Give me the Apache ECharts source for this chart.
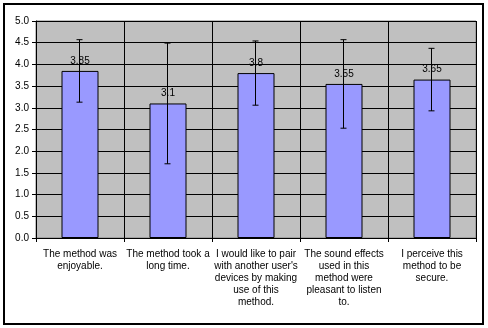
<!DOCTYPE html>
<html>
<head>
<meta charset="utf-8">
<script src="https://cdn.jsdelivr.net/npm/echarts@6/dist/echarts.min.js"></script>
<style>
html,body{margin:0;padding:0;background:#fff;}
#c{width:488px;height:328px;}
</style>
</head>
<body>
<div id="c"></div>
<script>
var categories = [
  "The method was\nenjoyable.",
  "The method took a\nlong time.",
  "I would like to pair\nwith another user's\ndevices by making\nuse of this\nmethod.",
  "The sound effects\nused in this\nmethod were\npleasant to listen\nto.",
  "I perceive this\nmethod to be\nsecure."
];
var means = [3.85, 3.1, 3.8, 3.55, 3.65];
var errors = [0.72, 1.39, 0.74, 1.02, 0.72];
var yTicks = [0, 0.5, 1, 1.5, 2, 2.5, 3, 3.5, 4, 4.5, 5];

var chart = echarts.init(document.getElementById('c'));
var font = 'Liberation Sans, Arial, sans-serif';
chart.setOption({
  animation: false,
  graphic: [{
    type: 'rect', shape: {x: 4, y: 4, width: 479, height: 320},
    style: {fill: 'none', stroke: '#000', lineWidth: 2}, z: 100
  }],
  grid: {left: 36, top: 21, width: 440, height: 217, show: true,
    backgroundColor: '#C0C0C0', borderColor: '#808080', borderWidth: 1},
  xAxis: {
    type: 'category', data: categories,
    axisLine: {lineStyle: {color: '#000', width: 1}},
    axisTick: {show: true, length: 4, lineStyle: {color: '#000'}},
    splitLine: {show: true, interval: 0, lineStyle: {color: '#000', width: 1}},
    axisLabel: {interval: 0, color: '#000', fontFamily: font, fontSize: 10, lineHeight: 12, margin: 10}
  },
  yAxis: {
    type: 'value', min: yTicks[0], max: yTicks[yTicks.length - 1], interval: 0.5,
    axisLine: {show: true, lineStyle: {color: '#000', width: 1}},
    axisTick: {show: true, length: 4, lineStyle: {color: '#000'}},
    splitLine: {show: true, lineStyle: {color: '#000', width: 1}},
    axisLabel: {color: '#000', fontFamily: font, fontSize: 10, margin: 7,
      formatter: function (v) { return v.toFixed(1); }}
  },
  series: [{
    type: 'bar', data: means, barWidth: 37,
    itemStyle: {color: '#9999FF', borderColor: '#000', borderWidth: 1},
    label: {show: true, position: 'top', distance: 5, color: '#000', fontFamily: font, fontSize: 10,
      formatter: function (p) { return String(p.value); }}
  }, {
    type: 'custom', z: 10,
    data: means.map(function (m, i) { return [i, m - errors[i], m + errors[i]]; }),
    renderItem: function (params, api) {
      var lo = api.coord([api.value(0), api.value(1)]);
      var hi = api.coord([api.value(0), api.value(2)]);
      var x = Math.round(lo[0]) - 1 + 0.5;
      var w = 3;
      var st = {stroke: '#000', lineWidth: 1, fill: 'none'};
      return {type: 'group', children: [
        {type: 'line', shape: {x1: x, y1: hi[1], x2: x, y2: lo[1]}, style: st},
        {type: 'line', shape: {x1: x - w, y1: hi[1], x2: x + w, y2: hi[1]}, style: st},
        {type: 'line', shape: {x1: x - w, y1: lo[1], x2: x + w, y2: lo[1]}, style: st}
      ]};
    }
  }]
});
</script>
</body>
</html>
